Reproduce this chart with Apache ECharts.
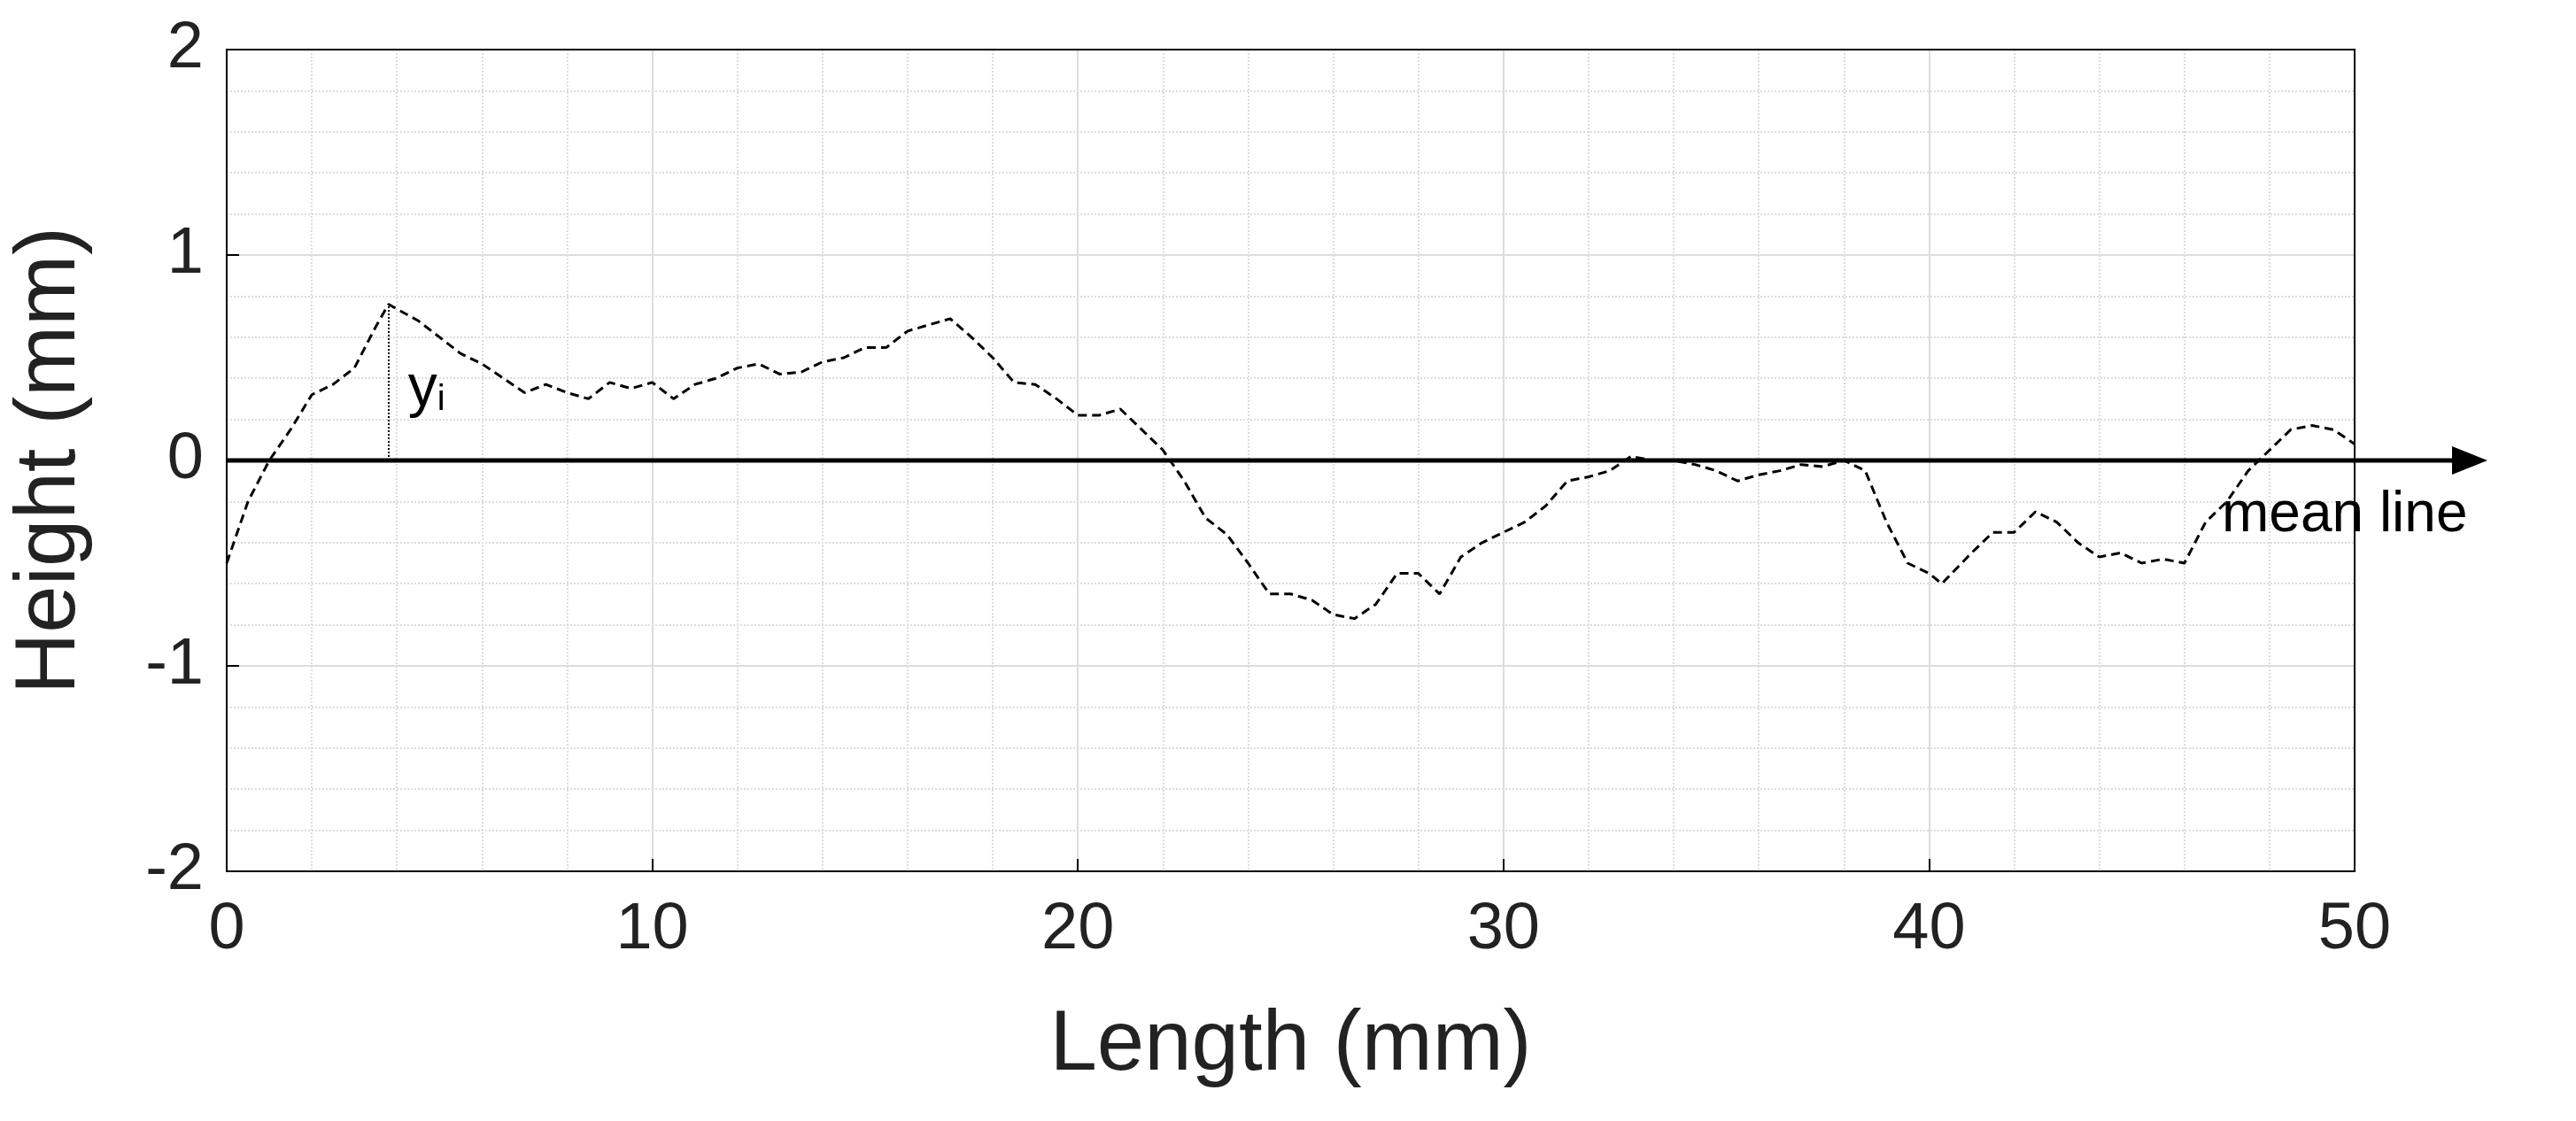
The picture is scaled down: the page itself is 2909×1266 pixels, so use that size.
<!DOCTYPE html>
<html>
<head>
<meta charset="utf-8">
<script src="https://cdn.jsdelivr.net/npm/echarts@6/dist/echarts.min.js"></script>
<style>html,body{margin:0;background:#fff}#c{width:2909px;height:1266px}</style>
</head>
<body>
<div id="c"></div>
<script>
// profile samples
const lengthMm = [0,0.5,1,1.5,2,2.5,3,3.5,3.8,4.5,5,5.5,6,6.5,7,7.5,8,8.5,9,9.5,10,10.5,11,11.5,12,12.5,13,13.5,14,14.5,15,15.5,16,16.5,17,17.5,18,18.5,19,19.5,20,20.5,21,21.5,22,22.5,23,23.5,24,24.5,25,25.5,26,26.5,27,27.5,28,28.5,29,29.5,30,30.5,31,31.5,32,32.5,33,33.5,34,34.5,35,35.5,36,36.5,37,37.5,38,38.5,39,39.5,40,40.3,41,41.5,42,42.5,43,43.5,44,44.5,45,45.5,46,46.5,47,47.5,48,48.5,49,49.5,50];
const heightMm = [-0.5,-0.2,0.0,0.15,0.32,0.37,0.45,0.65,0.76,0.68,0.6,0.52,0.47,0.4,0.33,0.37,0.33,0.3,0.38,0.35,0.38,0.3,0.37,0.4,0.45,0.47,0.42,0.43,0.48,0.5,0.55,0.55,0.63,0.66,0.69,0.6,0.5,0.38,0.37,0.3,0.22,0.22,0.25,0.15,0.05,-0.1,-0.28,-0.36,-0.5,-0.65,-0.65,-0.68,-0.75,-0.77,-0.7,-0.55,-0.55,-0.65,-0.47,-0.4,-0.35,-0.3,-0.22,-0.1,-0.08,-0.05,0.02,0.0,0.0,-0.02,-0.05,-0.1,-0.07,-0.05,-0.02,-0.03,0.0,-0.05,-0.3,-0.5,-0.55,-0.6,-0.45,-0.35,-0.35,-0.25,-0.3,-0.4,-0.47,-0.45,-0.5,-0.48,-0.5,-0.3,-0.2,-0.05,0.05,0.15,0.17,0.15,0.08];
const peakX = 3.8, peakY = 0.76;

const chart = echarts.init(document.getElementById('c'));
const font = 'Liberation Sans';
chart.setOption({
  animation: false,
  grid: {left: 256, right: 250, top: 56, bottom: 282},
  xAxis: {
    type: 'value', min: 0, max: 50, interval: 10,
    name: 'Length (mm)', nameLocation: 'middle', nameGap: 150,
    nameTextStyle: {fontFamily: font, fontSize: 96, color: '#222'},
    axisLabel: {fontFamily: font, fontSize: 74, color: '#222', margin: 30},
    axisLine: {onZero: false, lineStyle: {color: '#000', width: 2}},
    axisTick: {inside: true, length: 14, lineStyle: {color: '#000', width: 2}},
    splitLine: {lineStyle: {color: '#ddd', width: 2}},
    minorTick: {show: false, splitNumber: 5},
    minorSplitLine: {show: true, lineStyle: {color: '#ddd', type: 'dotted', width: 2}}
  },
  yAxis: {
    type: 'value', min: -2, max: 2, interval: 1,
    name: 'Height (mm)', nameLocation: 'middle', nameGap: 150,
    nameTextStyle: {fontFamily: font, fontSize: 96, color: '#222'},
    axisLabel: {fontFamily: font, fontSize: 74, color: '#222', margin: 26},
    axisLine: {onZero: false, lineStyle: {color: '#000', width: 2}},
    axisTick: {inside: true, length: 14, lineStyle: {color: '#000', width: 2}},
    splitLine: {lineStyle: {color: '#ddd', width: 2}},
    minorTick: {show: false, splitNumber: 5},
    minorSplitLine: {show: true, lineStyle: {color: '#ddd', type: 'dotted', width: 2}}
  },
  series: [{
    type: 'line', showSymbol: false,
    data: lengthMm.map((x, i) => [x, heightMm[i]]),
    lineStyle: {color: '#000', width: 3, type: [10, 6]},
    markLine: {
      silent: true, symbol: 'none',
      data: [[
        {coord: [peakX, 0]}, {coord: [peakX, peakY]}
      ]],
      lineStyle: {color: '#000', width: 2, type: 'dotted'},
      label: {show: false}
    }
  }]
});

// box, mean line with arrow and labels, placed from axis coordinates
const tl = chart.convertToPixel({gridIndex: 0}, [0, 2]);
const br = chart.convertToPixel({gridIndex: 0}, [50, -2]);
const p0 = chart.convertToPixel({gridIndex: 0}, [0, 0]);
const p1 = chart.convertToPixel({gridIndex: 0}, [50, 0]);
const py = chart.convertToPixel({gridIndex: 0}, [peakX, 0.3]);
const endX = p1[0] + 150;
chart.setOption({graphic: [
  {type: 'rect', shape: {x: tl[0], y: tl[1], width: br[0] - tl[0], height: br[1] - tl[1]}, style: {fill: 'none', stroke: '#000', lineWidth: 2}, z: 90},
  {type: 'line', shape: {x1: p0[0], y1: p0[1], x2: endX - 30, y2: p0[1]}, style: {stroke: '#000', lineWidth: 5}, z: 100},
  {type: 'polygon', shape: {points: [[endX, p0[1]], [endX - 40, p0[1] - 16], [endX - 40, p0[1] + 16]]}, style: {fill: '#000'}, z: 100},
  {type: 'text', x: p1[0] - 150, y: p0[1] + 30, style: {text: 'mean line', font: '64px "Liberation Sans"', fill: '#000'}, z: 100},
  {type: 'text', x: py[0] + 22, y: py[1] - 44, style: {
    text: '{a|y}{b|i}', rich: {a: {fontSize: 66, fontFamily: font, fill: '#000'}, b: {fontSize: 40, fontFamily: font, fill: '#000', verticalAlign: 'bottom', padding: [26, 0, 0, 0]}}
  }, z: 100}
]});
</script>
</body>
</html>
